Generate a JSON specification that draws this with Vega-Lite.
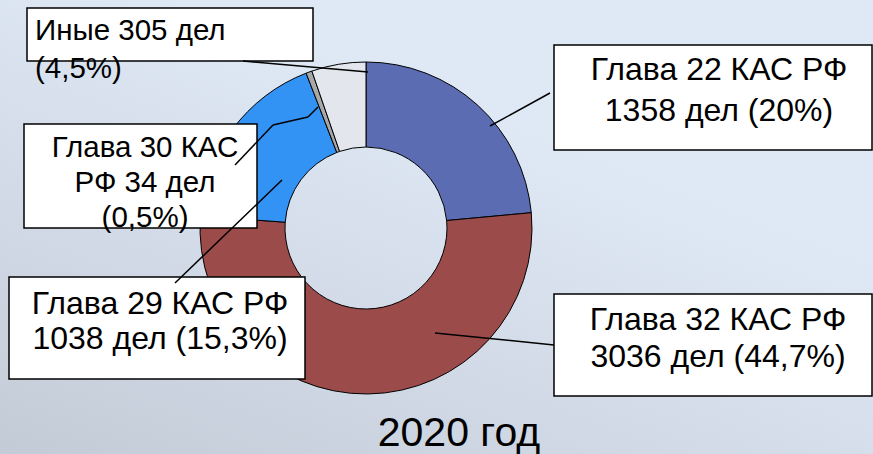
{
  "$schema": "https://vega.github.io/schema/vega-lite/v6.json",
  "width": 873,
  "height": 454,
  "autosize": {"type": "fit", "contains": "padding"},
  "padding": 0,
  "background": "#dbe4ef",
  "config": {
    "view": {"stroke": null, "fill": {"gradient": "linear", "x1": 0, "y1": 1, "x2": 0.55, "y2": 0.25, "stops": [{"offset": 0, "color": "#c3cbd7"}, {"offset": 1, "color": "#dfe9f5"}]}},
    "text": {"font": "Liberation Sans", "fontSize": 32, "color": "#000000"}
  },
  "datasets": {
    "slices": [
      {"cat": "Глава 22", "n": 1358, "idx": 1, "label": "Глава 22 КАС РФ\n1358 дел (20%)"},
      {"cat": "Глава 32", "n": 3036, "idx": 2, "label": "Глава 32 КАС РФ\n3036 дел (44,7%)"},
      {"cat": "Глава 29", "n": 1038, "idx": 3, "label": "Глава 29 КАС РФ\n1038 дел (15,3%)"},
      {"cat": "Глава 30", "n": 34, "idx": 4, "label": "Глава 30 КАС\nРФ 34 дел\n(0,5%)"},
      {"cat": "Иные", "n": 305, "idx": 5, "label": "Иные 305 дел\n(4,5%)"}
    ]
  },
  "data": {"name": "slices"},
  "layer": [
    {
      "mark": {"type": "arc", "outerRadius": 166, "innerRadius": 81, "stroke": "#000000", "strokeWidth": 1},
      "encoding": {
        "x": {"datum": 366, "type": "quantitative", "scale": {"domain": [0, 873], "nice": false, "zero": false}, "axis": null},
        "y": {"datum": 228, "type": "quantitative", "scale": {"domain": [0, 454], "reverse": true, "nice": false, "zero": false}, "axis": null},
        "theta": {"field": "n", "type": "quantitative", "stack": true},
        "order": {"field": "idx", "type": "quantitative"},
        "color": {"field": "cat", "type": "nominal", "legend": null,
          "scale": {"domain": ["Глава 22", "Глава 32", "Глава 29", "Глава 30", "Иные"], "range": ["#5b6cb2", "#9c4b4b", "#3393f5", "#a8a8a8", "#e3e7ed"]}}
      }
    },
    {
      "transform": [{"filter": "datum.cat === 'Иные'"}],
      "mark": {"type": "rect", "fill": "#ffffff", "stroke": "#000000", "strokeWidth": 1.5},
      "encoding": {
        "x": {"datum": 27, "type": "quantitative", "scale": {"domain": [0, 873], "nice": false, "zero": false}, "axis": null},
        "x2": {"datum": 313},
        "y": {"datum": 8, "type": "quantitative", "scale": {"domain": [0, 454], "reverse": true, "nice": false, "zero": false}, "axis": null},
        "y2": {"datum": 61}
      }
    },
    {
      "transform": [{"filter": "datum.cat === 'Глава 30'"}],
      "mark": {"type": "rect", "fill": "#ffffff", "stroke": "#000000", "strokeWidth": 1.5},
      "encoding": {
        "x": {"datum": 24, "type": "quantitative", "scale": {"domain": [0, 873], "nice": false, "zero": false}, "axis": null},
        "x2": {"datum": 257},
        "y": {"datum": 124, "type": "quantitative", "scale": {"domain": [0, 454], "reverse": true, "nice": false, "zero": false}, "axis": null},
        "y2": {"datum": 228}
      }
    },
    {
      "transform": [{"filter": "datum.cat === 'Глава 29'"}],
      "mark": {"type": "rect", "fill": "#ffffff", "stroke": "#000000", "strokeWidth": 1.5},
      "encoding": {
        "x": {"datum": 9, "type": "quantitative", "scale": {"domain": [0, 873], "nice": false, "zero": false}, "axis": null},
        "x2": {"datum": 305},
        "y": {"datum": 277, "type": "quantitative", "scale": {"domain": [0, 454], "reverse": true, "nice": false, "zero": false}, "axis": null},
        "y2": {"datum": 379}
      }
    },
    {
      "transform": [{"filter": "datum.cat === 'Глава 32'"}],
      "mark": {"type": "rect", "fill": "#ffffff", "stroke": "#000000", "strokeWidth": 1.5},
      "encoding": {
        "x": {"datum": 554, "type": "quantitative", "scale": {"domain": [0, 873], "nice": false, "zero": false}, "axis": null},
        "x2": {"datum": 872},
        "y": {"datum": 294, "type": "quantitative", "scale": {"domain": [0, 454], "reverse": true, "nice": false, "zero": false}, "axis": null},
        "y2": {"datum": 396}
      }
    },
    {
      "transform": [{"filter": "datum.cat === 'Глава 22'"}],
      "mark": {"type": "rect", "fill": "#ffffff", "stroke": "#000000", "strokeWidth": 1.5},
      "encoding": {
        "x": {"datum": 554, "type": "quantitative", "scale": {"domain": [0, 873], "nice": false, "zero": false}, "axis": null},
        "x2": {"datum": 872},
        "y": {"datum": 45, "type": "quantitative", "scale": {"domain": [0, 454], "reverse": true, "nice": false, "zero": false}, "axis": null},
        "y2": {"datum": 150}
      }
    },
    {
      "transform": [{"filter": "datum.cat === 'Иные'"}],
      "mark": {"type": "rule", "stroke": "#000000", "strokeWidth": 1.5},
      "encoding": {
        "x": {"datum": 243, "type": "quantitative", "scale": {"domain": [0, 873], "nice": false, "zero": false}, "axis": null},
        "x2": {"datum": 368},
        "y": {"datum": 61, "type": "quantitative", "scale": {"domain": [0, 454], "reverse": true, "nice": false, "zero": false}, "axis": null},
        "y2": {"datum": 72}
      }
    },
    {
      "transform": [{"filter": "datum.cat === 'Глава 30'"}],
      "mark": {"type": "rule", "stroke": "#000000", "strokeWidth": 1.5},
      "encoding": {
        "x": {"datum": 235, "type": "quantitative", "scale": {"domain": [0, 873], "nice": false, "zero": false}, "axis": null},
        "x2": {"datum": 273},
        "y": {"datum": 165, "type": "quantitative", "scale": {"domain": [0, 454], "reverse": true, "nice": false, "zero": false}, "axis": null},
        "y2": {"datum": 125}
      }
    },
    {
      "transform": [{"filter": "datum.cat === 'Глава 30'"}],
      "mark": {"type": "rule", "stroke": "#000000", "strokeWidth": 1.5},
      "encoding": {
        "x": {"datum": 273, "type": "quantitative", "scale": {"domain": [0, 873], "nice": false, "zero": false}, "axis": null},
        "x2": {"datum": 308},
        "y": {"datum": 125, "type": "quantitative", "scale": {"domain": [0, 454], "reverse": true, "nice": false, "zero": false}, "axis": null},
        "y2": {"datum": 117}
      }
    },
    {
      "transform": [{"filter": "datum.cat === 'Глава 30'"}],
      "mark": {"type": "rule", "stroke": "#000000", "strokeWidth": 1.5},
      "encoding": {
        "x": {"datum": 308, "type": "quantitative", "scale": {"domain": [0, 873], "nice": false, "zero": false}, "axis": null},
        "x2": {"datum": 318},
        "y": {"datum": 117, "type": "quantitative", "scale": {"domain": [0, 454], "reverse": true, "nice": false, "zero": false}, "axis": null},
        "y2": {"datum": 107}
      }
    },
    {
      "transform": [{"filter": "datum.cat === 'Глава 29'"}],
      "mark": {"type": "rule", "stroke": "#000000", "strokeWidth": 1.5},
      "encoding": {
        "x": {"datum": 175, "type": "quantitative", "scale": {"domain": [0, 873], "nice": false, "zero": false}, "axis": null},
        "x2": {"datum": 282},
        "y": {"datum": 283, "type": "quantitative", "scale": {"domain": [0, 454], "reverse": true, "nice": false, "zero": false}, "axis": null},
        "y2": {"datum": 180}
      }
    },
    {
      "transform": [{"filter": "datum.cat === 'Глава 32'"}],
      "mark": {"type": "rule", "stroke": "#000000", "strokeWidth": 1.5},
      "encoding": {
        "x": {"datum": 435, "type": "quantitative", "scale": {"domain": [0, 873], "nice": false, "zero": false}, "axis": null},
        "x2": {"datum": 554},
        "y": {"datum": 333, "type": "quantitative", "scale": {"domain": [0, 454], "reverse": true, "nice": false, "zero": false}, "axis": null},
        "y2": {"datum": 345}
      }
    },
    {
      "transform": [{"filter": "datum.cat === 'Глава 22'"}],
      "mark": {"type": "rule", "stroke": "#000000", "strokeWidth": 1.5},
      "encoding": {
        "x": {"datum": 490, "type": "quantitative", "scale": {"domain": [0, 873], "nice": false, "zero": false}, "axis": null},
        "x2": {"datum": 550},
        "y": {"datum": 126, "type": "quantitative", "scale": {"domain": [0, 454], "reverse": true, "nice": false, "zero": false}, "axis": null},
        "y2": {"datum": 93}
      }
    },
    {
      "transform": [{"filter": "datum.cat === 'Иные'"}],
      "mark": {"type": "text", "align": "left", "baseline": "middle", "lineBreak": "\n", "lineHeight": 38, "fontSize": 29.5},
      "encoding": {
        "x": {"datum": 35, "type": "quantitative", "scale": {"domain": [0, 873], "nice": false, "zero": false}, "axis": null},
        "y": {"datum": 31, "type": "quantitative", "scale": {"domain": [0, 454], "reverse": true, "nice": false, "zero": false}, "axis": null},
        "text": {"field": "label", "type": "nominal"}
      }
    },
    {
      "transform": [{"filter": "datum.cat === 'Глава 30'"}],
      "mark": {"type": "text", "align": "center", "baseline": "middle", "lineBreak": "\n", "lineHeight": 35, "fontSize": 29.5},
      "encoding": {
        "x": {"datum": 145, "type": "quantitative", "scale": {"domain": [0, 873], "nice": false, "zero": false}, "axis": null},
        "y": {"datum": 148, "type": "quantitative", "scale": {"domain": [0, 454], "reverse": true, "nice": false, "zero": false}, "axis": null},
        "text": {"field": "label", "type": "nominal"}
      }
    },
    {
      "transform": [{"filter": "datum.cat === 'Глава 29'"}],
      "mark": {"type": "text", "align": "center", "baseline": "middle", "lineBreak": "\n", "lineHeight": 35},
      "encoding": {
        "x": {"datum": 160, "type": "quantitative", "scale": {"domain": [0, 873], "nice": false, "zero": false}, "axis": null},
        "y": {"datum": 304, "type": "quantitative", "scale": {"domain": [0, 454], "reverse": true, "nice": false, "zero": false}, "axis": null},
        "text": {"field": "label", "type": "nominal"}
      }
    },
    {
      "transform": [{"filter": "datum.cat === 'Глава 32'"}],
      "mark": {"type": "text", "align": "center", "baseline": "middle", "lineBreak": "\n", "lineHeight": 37},
      "encoding": {
        "x": {"datum": 718, "type": "quantitative", "scale": {"domain": [0, 873], "nice": false, "zero": false}, "axis": null},
        "y": {"datum": 320, "type": "quantitative", "scale": {"domain": [0, 454], "reverse": true, "nice": false, "zero": false}, "axis": null},
        "text": {"field": "label", "type": "nominal"}
      }
    },
    {
      "transform": [{"filter": "datum.cat === 'Глава 22'"}],
      "mark": {"type": "text", "align": "center", "baseline": "middle", "lineBreak": "\n", "lineHeight": 41},
      "encoding": {
        "x": {"datum": 719, "type": "quantitative", "scale": {"domain": [0, 873], "nice": false, "zero": false}, "axis": null},
        "y": {"datum": 70, "type": "quantitative", "scale": {"domain": [0, 454], "reverse": true, "nice": false, "zero": false}, "axis": null},
        "text": {"field": "label", "type": "nominal"}
      }
    },
    {
      "transform": [{"filter": "datum.cat === 'Глава 22'"}],
      "mark": {"type": "text", "align": "center", "baseline": "middle", "fontSize": 41},
      "encoding": {
        "x": {"datum": 459, "type": "quantitative", "scale": {"domain": [0, 873], "nice": false, "zero": false}, "axis": null},
        "y": {"datum": 434, "type": "quantitative", "scale": {"domain": [0, 454], "reverse": true, "nice": false, "zero": false}, "axis": null},
        "text": {"value": "2020 год"}
      }
    }
  ]
}
